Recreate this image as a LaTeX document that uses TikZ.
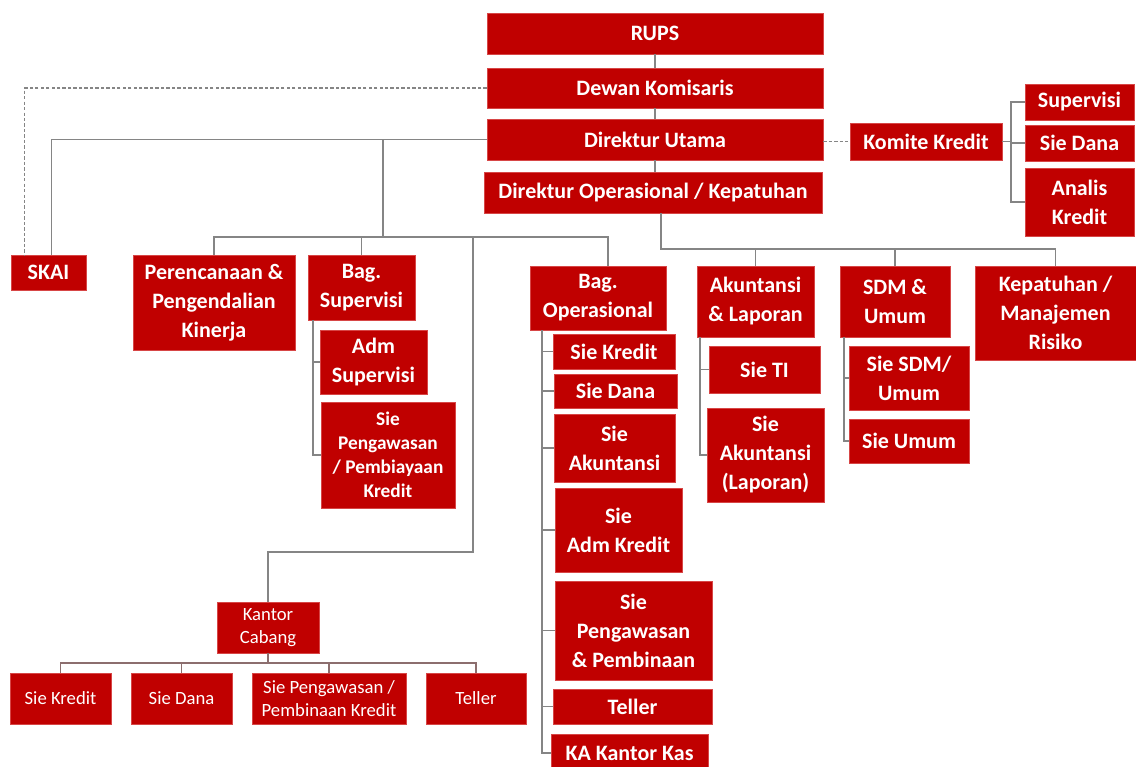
\documentclass[tikz,border=0pt]{standalone}
\usepackage{fontspec}
\setmainfont{Carlito}
\usetikzlibrary{calc}
\definecolor{boxred}{HTML}{C00000}
\definecolor{lngray}{HTML}{858585}
\definecolor{lnkc}{HTML}{8C6E6E}
\newcommand\bx[7][]{%
 \pgfmathsetmacro\bxw{(#5-#3)*0.75}%
 \pgfmathsetmacro\bxh{(#6-#4)*0.75}%
 \node[box,minimum width=\bxw pt,minimum height=\bxh pt,#1] (#2) at ({(#3+#5)/2},{(#4+#6)/2}) {#7};}
\begin{document}
\begin{tikzpicture}[x=0.75pt,y=-0.75pt,
 box/.style={fill=boxred, draw={rgb,255:red,215;green,70;blue,70}, line width=0.4pt, text=white, font=\bfseries\fontsize{16.5}{21.75}\selectfont, align=center, inner sep=0pt},
 sbox/.style={font=\mdseries\fontsize{14}{17.25}\selectfont},
 small/.style={font=\bfseries\fontsize{14.5}{18}\selectfont},
 ln/.style={draw=lngray, line width=0.9pt},
 lnk/.style={draw=lnkc, line width=0.9pt},
 dsh/.style={draw=lngray, line width=0.9pt, dash pattern=on 2.5pt off 1.6pt}]
\useasboundingbox (0,0) rectangle (1136,767);
\clip (0,0) rectangle (1136,767);
\fill[white] (0,0) rectangle (1136,767);
% top column
\bx{rups}{487}{13}{823}{54}{RUPS}
\bx{dewan}{487}{68}{823}{108}{Dewan Komisaris}
\bx{dirut}{487}{119}{823}{160}{Direktur Utama}
\bx{dirop}{484}{172}{822}{213}{Direktur Operasional / Kepatuhan}
% komite
\bx{komite}{850}{123}{1002}{160}{Komite Kredit}
\bx{sup}{1025}{84}{1134}{120}{Supervisi}
\bx{sdana}{1025}{125}{1134}{161}{Sie Dana}
\bx{analis}{1025}{168}{1134}{236}{Analis\\Kredit}
% left branch
\bx{skai}{11}{255}{86}{290}{SKAI}
\bx{perenc}{133}{255}{295}{350}{Perencanaan \&\\Pengendalian\\Kinerja}
\bx{bagsup}{308}{255}{415}{320}{Bag.\\Supervisi}
\bx{admsup}{320}{330}{427}{394}{Adm\\Supervisi}
\bx[small]{siepengsup}{321}{402}{455}{508}{Sie\\Pengawasan\\/ Pembiayaan\\Kredit}
% operasional
\bx{bagop}{530}{266}{666}{330}{Bag.\\Operasional}
\bx{skredit}{553}{334}{675}{369}{Sie Kredit}
\bx{sdana2}{554}{374}{677}{408}{Sie Dana}
\bx{sakun}{554}{414}{675}{482}{Sie\\Akuntansi}
\bx{sadm}{555}{488}{682}{572}{Sie\\Adm Kredit}
\bx{speng}{555}{581}{712}{680}{Sie\\Pengawasan\\\& Pembinaan}
\bx{teller}{553}{689}{712}{724}{Teller}
\bx{kakas}{551}{734}{708}{772}{KA Kantor Kas}
% dirop children
\bx{akun}{697}{266}{814}{337}{Akuntansi\\\& Laporan}
\bx{sti}{709}{346}{820}{393}{Sie TI}
\bx{sakunlap}{707}{408}{824}{502}{Sie\\Akuntansi\\(Laporan)}
\bx{sdm}{840}{266}{950}{337}{SDM \&\\Umum}
\bx{ssdm}{849}{346}{969}{410}{Sie SDM/\\Umum}
\bx{sumum}{849}{419}{969}{463}{Sie Umum}
\bx{kepat}{975}{266}{1136}{360}{Kepatuhan /\\Manajemen\\Risiko}
% kantor cabang
\bx[sbox]{kc}{217}{602}{319}{653}{Kantor\\Cabang}
\bx[sbox]{kskredit}{10}{673}{111}{724}{Sie Kredit}
\bx[sbox]{ksdana}{131}{673}{232}{724}{Sie Dana}
\bx[sbox]{kspeng}{252}{673}{406}{724}{Sie Pengawasan /\\Pembinaan Kredit}
\bx[sbox]{kteller}{426}{673}{526}{724}{Teller}
% connectors: main column
\draw[ln] (rups.south) -- (dewan.north);
\draw[ln] (dewan.south) -- (dirut.north);
\draw[ln] (dirut.south) -- (dirut.south |- dirop.north);
\draw[dsh] (dewan.west) -| ($(skai.north west)+(14,0)$);
\draw[ln] (dirut.west) -| ($(skai.north west)+(41,0)$);
\draw[dsh] (dirut.east |- komite.west) -- (komite.west);
% komite bracket
\coordinate (kb) at (1011,0);
\draw[ln] (komite.east) -- (komite.east -| kb);
\draw[ln] (sup.west) -| (kb |- analis.west) -- (analis.west);
\draw[ln] (sdana.west) -- (sdana.west -| kb);
% left hub
\coordinate (hA) at (383,237);
\coordinate (opdrop) at (608,266);
\coordinate (kcA) at (473,552);
\draw[ln] (hA |- dirut.west) -- (hA);
\draw[ln] (perenc.north) -- (perenc.north |- hA) -- (opdrop |- hA) -- (opdrop);
\draw[ln] (bagsup.north) -- (bagsup.north |- hA);
\draw[ln] (kcA |- hA) -- (kcA) -| (kc.north);
% bag supervisi bracket
\coordinate (bs) at (313,320);
\draw[ln] (bs) |- (siepengsup.west);
\draw[ln] (bs |- admsup.west) -- (admsup.west);
% bag operasional bracket
\coordinate (bo) at (542,330);
\draw[ln] (bo) |- (kakas.west);
\foreach \n in {skredit,sdana2,sakun,sadm,speng,teller}
  \draw[ln] (bo |- \n.west) -- (\n.west);
% dirop hub
\coordinate (hB) at (661,249);
\draw[ln] (hB |- dirop.south) -- (hB) -| (kepat.north);
\draw[ln] (hB) -| (akun.north);
\draw[ln] (hB) -| (sdm.north);
% akuntansi bracket
\coordinate (ab) at (700,337);
\draw[ln] (ab) |- (sakunlap.west);
\draw[ln] (ab |- sti.west) -- (sti.west);
% sdm bracket
\coordinate (sb) at (844,337);
\draw[ln] (sb) |- (sumum.west);
\draw[ln] (sb |- ssdm.west) -- (ssdm.west);
% kantor cabang
\coordinate (kh) at (0,663);
\draw[lnk] (kc.south) -- (kc.south |- kh);
\draw[lnk] (kskredit.north) -- (kskredit.north |- kh) -- (kteller.north |- kh) -- (kteller.north);
\draw[lnk] (ksdana.north) -- (ksdana.north |- kh);
\draw[lnk] (kspeng.north) -- (kspeng.north |- kh);
\end{tikzpicture}
\end{document}
